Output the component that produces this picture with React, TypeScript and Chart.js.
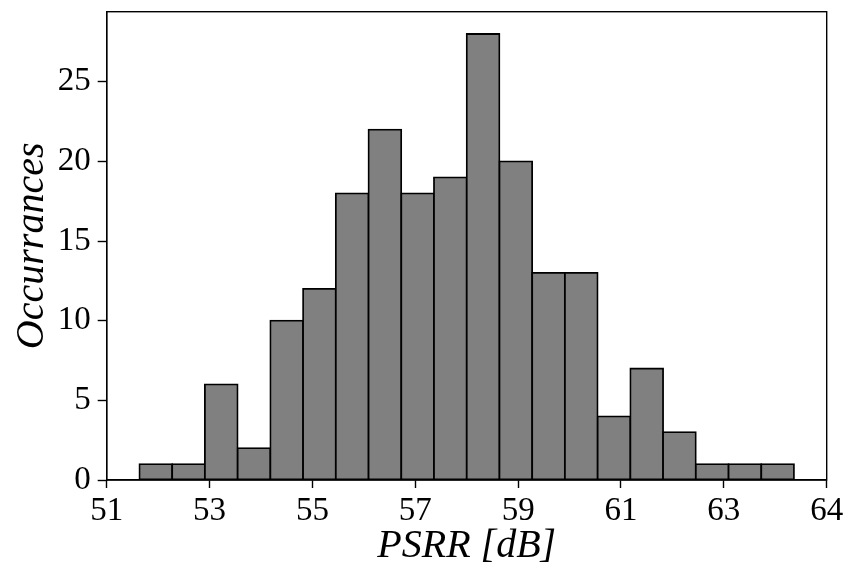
import { useEffect, useRef } from 'react';
import { Chart, registerables } from 'chart.js';

Chart.register(...registerables);

// Histogram counts per bin (20 bins)
const counts = [1, 1, 6, 2, 10, 12, 18, 22, 18, 19, 28, 20, 13, 13, 4, 7, 3, 1, 1, 1];
const binStart = 52.25;
const binWidth = 0.605;
const xTickLabels = ['51', '53', '55', '57', '59', '61', '63', '64'];
const yTicks = [0, 5, 10, 15, 20, 25];
const yMax = 29.4;
const xTitle = 'PSRR [dB]';
const yTitle = 'Occurrances';

export default function App() {
  const ref = useRef<HTMLCanvasElement>(null);

  useEffect(() => {
    if (!ref.current) return;
    const xMin = binStart - binWidth;
    const xMax = binStart + (counts.length + 1) * binWidth;
    const tickVals = xTickLabels.map(
      (_, i) => xMin + ((xMax - xMin) * i) / (xTickLabels.length - 1)
    );
    const data = counts.map((c, i) => ({ x: binStart + (i + 0.5) * binWidth, y: c }));

    const framePlugin = {
      id: 'frame',
      afterDatasetsDraw(chart: any) {
        const { ctx, chartArea: a } = chart;
        ctx.save();
        ctx.strokeStyle = '#000';
        ctx.lineWidth = 1.4;
        ctx.strokeRect(a.left, a.top, a.right - a.left, a.bottom - a.top);
        ctx.restore();
      },
    };

    const family = "'Liberation Serif', 'DejaVu Serif', serif";

    const chart = new Chart(ref.current, {
      type: 'bar',
      data: {
        datasets: [
          {
            data: data as any,
            backgroundColor: '#808080',
            borderColor: '#000000',
            borderWidth: 1.8,
            inflateAmount: 0.9,
            borderSkipped: false,
            barPercentage: 1,
            categoryPercentage: 1,
          } as any,
        ],
      },
      options: {
        animation: false,
        responsive: false,
        maintainAspectRatio: false,
        layout: { padding: { top: 11.7, right: 19.3, left: 0, bottom: 0 } },
        plugins: {
          legend: { display: false },
          tooltip: { enabled: false },
        },
        scales: {
          x: {
            type: 'linear',
            offset: false,
            min: xMin,
            max: xMax,
            afterBuildTicks: (scale: any) => {
              scale.ticks = tickVals.map((v) => ({ value: v }));
            },
            afterFit: (scale: any) => {
              scale.height = 94;
              scale.paddingLeft = 0;
              scale.paddingRight = 0;
            },
            ticks: {
              autoSkip: false,
              maxRotation: 0,
              padding: 4,
              color: '#000',
              font: { family, size: 33 },
              callback: (_v: any, i: number) => xTickLabels[i],
            },
            grid: {
              offset: false,
              drawOnChartArea: false,
              drawTicks: true,
              tickLength: 8,
              tickColor: '#000',
              tickWidth: 1.4,
            },
            border: { display: true, color: '#000', width: 1.4 },
            title: {
              display: true,
              text: xTitle,
              color: '#000',
              font: { family, size: 40, style: 'italic', lineHeight: 1.2 },
              padding: { top: 0, bottom: 4 },
            },
          },
          y: {
            type: 'linear',
            min: 0,
            max: yMax,
            afterBuildTicks: (scale: any) => {
              scale.ticks = yTicks.map((v) => ({ value: v }));
            },
            afterFit: (scale: any) => {
              scale.width = 106.7;
              scale.paddingTop = 0;
              scale.paddingBottom = 0;
            },
            ticks: {
              padding: 7,
              color: '#000',
              font: { family, size: 33 },
            },
            grid: {
              drawOnChartArea: false,
              drawTicks: true,
              tickLength: 9,
              tickColor: '#000',
              tickWidth: 1.4,
            },
            border: { display: true, color: '#000', width: 1.4 },
            title: {
              display: true,
              text: yTitle,
              color: '#000',
              font: { family, size: 40, style: 'italic', lineHeight: 1.2 },
              padding: { top: 8, bottom: 0 },
            },
          },
        },
      },
      plugins: [framePlugin],
    });

    return () => chart.destroy();
  }, []);

  return (
    <div style={{ position: 'fixed', left: 0, top: 0, width: 846, height: 574, background: '#fff' }}>
      <canvas ref={ref} width={846} height={574} style={{ display: 'block' }} />
    </div>
  );
}
